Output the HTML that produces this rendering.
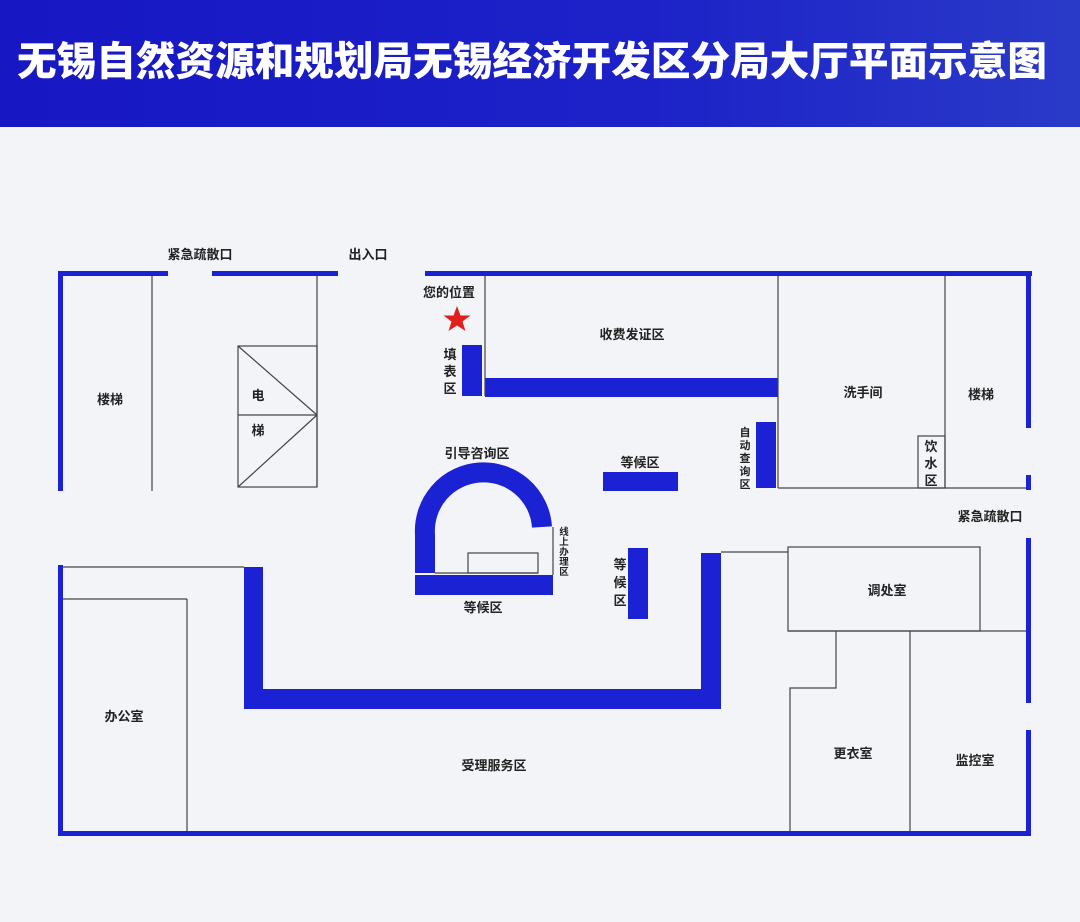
<!DOCTYPE html>
<html><head><meta charset="utf-8"><style>
html,body{margin:0;padding:0;background:#f3f4f8;}
svg{display:block;}
text{font-family:"Liberation Sans","Noto Sans CJK SC",sans-serif;font-weight:bold;fill:#222;}
</style></head><body>
<svg width="1080" height="922" viewBox="0 0 1080 922" xmlns="http://www.w3.org/2000/svg">
<defs><linearGradient id="hg" x1="0" x2="1" y1="0" y2="0"><stop offset="0" stop-color="#1717c4"/><stop offset="0.6" stop-color="#1c22c8"/><stop offset="1" stop-color="#2a3ac8"/></linearGradient></defs>
<rect x="0" y="0" width="1080" height="922" fill="#f3f4f8"/>
<rect x="0" y="0" width="1080" height="127" fill="url(#hg)"/>
<text x="532" y="75" text-anchor="middle" font-size="40" style="fill:#fff;font-family:'Noto Sans CJK SC',sans-serif;font-weight:900" textLength="1030" lengthAdjust="spacingAndGlyphs">无锡自然资源和规划局无锡经济开发区分局大厅平面示意图</text>

<g fill="#1b22d4">
<!-- top wall -->
<rect x="58" y="271" width="110" height="5"/>
<rect x="212" y="271" width="126" height="5"/>
<rect x="425" y="271" width="607" height="5"/>
<!-- left wall -->
<rect x="58" y="271" width="5" height="220"/>
<rect x="58" y="565" width="5" height="271"/>
<!-- right wall -->
<rect x="1026" y="271" width="5" height="157"/>
<rect x="1026" y="475" width="5" height="15"/>
<rect x="1026" y="538" width="5" height="165"/>
<rect x="1026" y="730" width="5" height="106"/>
<!-- bottom wall -->
<rect x="58" y="831" width="973" height="5"/>
<!-- counters -->
<rect x="462" y="345" width="20" height="51"/>
<rect x="485" y="378" width="293" height="19"/>
<rect x="756" y="422" width="20" height="66"/>
<rect x="603" y="472" width="75" height="19"/>
<rect x="415" y="575" width="138" height="20"/>
<rect x="628" y="548" width="20" height="71"/>
<rect x="244" y="567" width="19" height="142"/>
<rect x="244" y="689" width="477" height="20"/>
<rect x="701" y="553" width="20" height="156"/>
</g>
<path d="M425 573 L425 535 A58 58 0 0 1 542 527" fill="none" stroke="#1b22d4" stroke-width="20"/>

<g stroke="#444" stroke-width="1.2" fill="none">
<line x1="152" y1="276" x2="152" y2="491"/>
<line x1="317" y1="276" x2="317" y2="487"/>
<rect x="238" y="346" width="79" height="141"/>
<line x1="238" y1="415" x2="317" y2="415"/>
<line x1="238" y1="346" x2="317" y2="415"/>
<line x1="317" y1="415" x2="238" y2="487"/>
<line x1="485" y1="276" x2="485" y2="396"/>
<line x1="778" y1="276" x2="778" y2="488"/>
<line x1="945" y1="276" x2="945" y2="488"/>
<line x1="778" y1="488" x2="1026" y2="488"/>
<rect x="918" y="436" width="27" height="52"/>
<rect x="468" y="553" width="70" height="20"/>
<line x1="435" y1="573" x2="538" y2="573"/>
<line x1="553" y1="527" x2="553" y2="575"/>
<line x1="63" y1="567" x2="244" y2="567"/>
<line x1="63" y1="599" x2="187" y2="599"/>
<line x1="187" y1="599" x2="187" y2="831"/>
<line x1="721" y1="552" x2="788" y2="552"/>
<rect x="788" y="547" width="192" height="84"/>
<line x1="788" y1="631" x2="1026" y2="631"/>
<polyline points="836,631 836,688 790,688 790,831"/>
<line x1="910" y1="631" x2="910" y2="831"/>
</g>

<polygon points="457,306 460.5,315.5 470.5,315.5 462.5,321.5 465.5,331 457,325.5 448.5,331 451.5,321.5 443.5,315.5 453.5,315.5" fill="#e0201c"/>

<g font-size="13">
<text x="200" y="259" text-anchor="middle">紧急疏散口</text>
<text x="368" y="259" text-anchor="middle">出入口</text>
<text x="449" y="297" text-anchor="middle">您的位置</text>
<text x="450" y="359" text-anchor="middle">填</text>
<text x="450" y="376" text-anchor="middle">表</text>
<text x="450" y="393" text-anchor="middle">区</text>
<text x="110" y="404" text-anchor="middle">楼梯</text>
<text x="258" y="400" text-anchor="middle">电</text>
<text x="258" y="435" text-anchor="middle">梯</text>
<text x="632" y="339" text-anchor="middle">收费发证区</text>
<text x="863" y="397" text-anchor="middle">洗手间</text>
<text x="981" y="399" text-anchor="middle">楼梯</text>
<text x="931" y="451" text-anchor="middle">饮</text>
<text x="931" y="468" text-anchor="middle">水</text>
<text x="931" y="485" text-anchor="middle">区</text>
<text x="477" y="458" text-anchor="middle">引导咨询区</text>
<text x="640" y="467" text-anchor="middle">等候区</text>
<text x="990" y="521" text-anchor="middle">紧急疏散口</text>
<text x="887" y="595" text-anchor="middle">调处室</text>
<text x="124" y="721" text-anchor="middle">办公室</text>
<text x="494" y="770" text-anchor="middle">受理服务区</text>
<text x="853" y="758" text-anchor="middle">更衣室</text>
<text x="975" y="765" text-anchor="middle">监控室</text>
<text x="483" y="612" text-anchor="middle">等候区</text>
<text x="620" y="569" text-anchor="middle">等</text>
<text x="620" y="587" text-anchor="middle">候</text>
<text x="620" y="605" text-anchor="middle">区</text>
</g>
<g font-size="11">
<text x="745" y="436" text-anchor="middle">自</text>
<text x="745" y="449" text-anchor="middle">动</text>
<text x="745" y="462" text-anchor="middle">查</text>
<text x="745" y="475" text-anchor="middle">询</text>
<text x="745" y="488" text-anchor="middle">区</text>
</g>
<g font-size="9.5">
<text x="564" y="535" text-anchor="middle">线</text>
<text x="564" y="545" text-anchor="middle">上</text>
<text x="564" y="555" text-anchor="middle">办</text>
<text x="564" y="565" text-anchor="middle">理</text>
<text x="564" y="575" text-anchor="middle">区</text>
</g>
</svg>
</body></html>
